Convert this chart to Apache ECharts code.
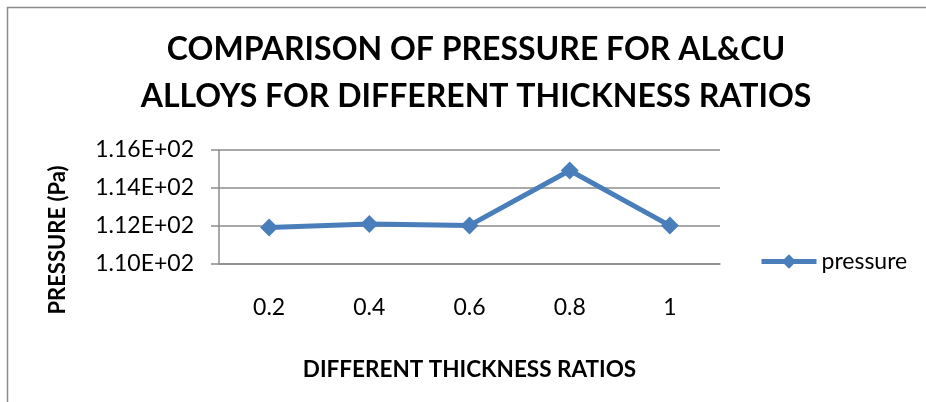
<!DOCTYPE html>
<html><head><meta charset="utf-8">
<script src="https://cdn.jsdelivr.net/npm/echarts@6/dist/echarts.min.js"></script>
<style>html,body{margin:0;padding:0;background:#fff}#c{width:926px;height:402px}</style>
</head><body><div id="c"></div>
<script>
const categories = ['0.2', '0.4', '0.6', '0.8', '1'];
const pressure = [111.92, 112.1, 112.03, 114.92, 112.02];
const yTicks = [110, 112, 114, 116];
const seriesName = 'pressure';

function sci(v) {
  const s = v.toExponential(2).toUpperCase();
  const m = s.split('E');
  let e = m[1];
  const sign = e[0] === '-' ? '-' : '+';
  e = e.replace(/[+-]/, '');
  if (e.length < 2) e = '0' + e;
  return m[0] + 'E' + sign + e;
}

const chart = echarts.init(document.getElementById('c'));
chart.setOption({
  animation: false,
  title: {
    text: 'COMPARISON OF PRESSURE FOR AL&CU\nALLOYS FOR DIFFERENT THICKNESS RATIOS',
    left: 476, top: 26, textAlign: 'center', padding: 0,
    textStyle: { fontFamily: 'Lato', fontWeight: 'bold', fontSize: 32, lineHeight: 47, color: '#000' }
  },
  legend: {
    left: 759, top: 250, itemWidth: 55, itemHeight: 18, itemGap: 4, padding: 0,
    lineStyle: { width: 5 },
    textStyle: { fontFamily: 'Lato', fontSize: 23, color: '#000', padding: [0, 0, 0, 0] },
    data: [seriesName]
  },
  grid: { left: 219, right: 206, top: 150, bottom: 138 },
  xAxis: {
    type: 'category', data: categories, boundaryGap: true,
    axisLine: { lineStyle: { color: '#8c8c8c', width: 1.5 } },
    axisTick: { show: false },
    axisLabel: { fontFamily: 'Lato', fontSize: 23, color: '#000', margin: 32 },
    name: 'DIFFERENT THICKNESS RATIOS', nameLocation: 'middle', nameGap: 94,
    nameTextStyle: { fontFamily: 'Lato', fontWeight: 'bold', fontSize: 22.5, color: '#000' }
  },
  yAxis: {
    type: 'value', min: yTicks[0], max: yTicks[yTicks.length - 1], interval: 2,
    axisLine: { show: true, lineStyle: { color: '#8c8c8c', width: 1.5 } },
    axisTick: { show: true, inside: false, length: 8, lineStyle: { color: '#8c8c8c', width: 1.5 } },
    splitLine: { lineStyle: { color: '#8c8c8c', width: 1.5 } },
    axisLabel: { fontFamily: 'Lato', fontSize: 23, color: '#000', margin: 25, formatter: sci }
  },
  series: [{
    name: seriesName, type: 'line', data: pressure,
    symbol: 'diamond', symbolSize: 18,
    lineStyle: { color: '#4a7ebb', width: 5 },
    itemStyle: { color: '#4a7ebb' }
  }],
  graphic: [{
    type: 'polyline', silent: true,
    shape: { points: [[7.5, 402], [7.5, 7.5], [926, 7.5]] },
    style: { stroke: '#8c8c8c', lineWidth: 1.5, fill: null }
  }, {
    type: 'text', silent: true, x: 58, y: 240, rotation: Math.PI / 2,
    style: {
      text: 'PRESSURE (Pa)', fontFamily: 'Lato', fontWeight: 'bold', fontSize: 22,
      fill: '#000', align: 'center', verticalAlign: 'middle'
    }
  }]
});
</script></body></html>
